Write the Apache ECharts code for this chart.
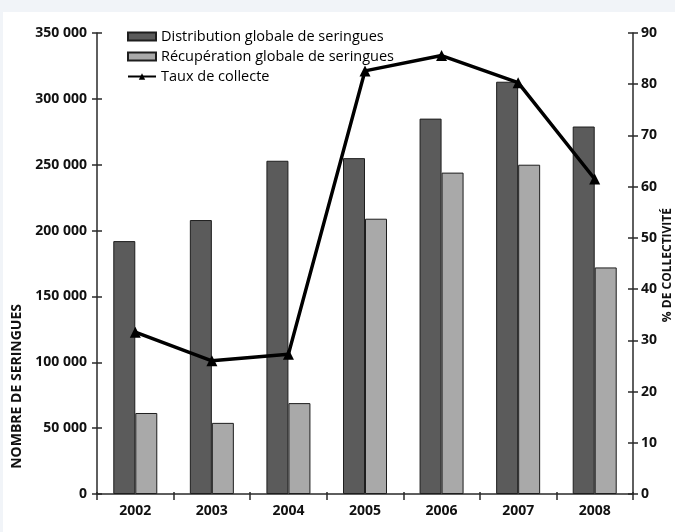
<!DOCTYPE html>
<html>
<head>
<meta charset="utf-8">
<script src="https://cdn.jsdelivr.net/npm/echarts@6/dist/echarts.min.js"></script>
<style>
  html, body { margin: 0; padding: 0; background: #f1f4f8; }
  #chart { position: absolute; left: 3px; top: 12px; width: 672px; height: 520px; background: #ffffff; }
</style>
</head>
<body>
<div id="chart"></div>
<script>
// Données : seringues distribuées / récupérées et taux de collecte (%)
const annees = ['2002', '2003', '2004', '2005', '2006', '2007', '2008'];
const distribution = [192000, 208000, 253000, 255000, 285000, 313000, 279000];
const recuperation = [61500, 54000, 69000, 209000, 244000, 250000, 172000];
const tauxCollecte = [31.6, 26.0, 27.3, 82.6, 85.6, 80.3, 61.5];

const FONT = '"Open Sans", "DejaVu Sans", sans-serif';
const AXIS_COLOR = '#2a2a2a';

function milliers(v) {
  return String(v).replace(/\B(?=(\d{3})+(?!\d))/g, ' ');
}

const chart = echarts.init(document.getElementById('chart'), null, { renderer: 'canvas' });

chart.setOption({
  animation: false,
  grid: { left: 94, right: 42, top: 21, bottom: 38 },
  legend: {
    left: 119,
    top: 12,
    orient: 'vertical',
    itemWidth: 28,
    itemHeight: 8,
    itemGap: 5,
    textStyle: { fontFamily: FONT, fontSize: 14.5, color: '#000' },
    data: [
      { name: 'Distribution globale de seringues', icon: 'rect' },
      { name: 'Récupération globale de seringues', icon: 'rect' },
      { name: 'Taux de collecte' }
    ]
  },
  xAxis: [
    {
      type: 'category',
      data: annees,
      axisLine: { lineStyle: { color: AXIS_COLOR, width: 1.5 } },
      axisTick: { show: true, length: 6, lineStyle: { color: AXIS_COLOR, width: 1.5 } },
      axisLabel: { margin: 10, fontFamily: FONT, fontSize: 14, fontWeight: 'bold', color: '#111' }
    },
    {
      // repères intérieurs de l'axe des années
      type: 'category',
      data: annees,
      position: 'bottom',
      axisLine: { show: false },
      axisTick: { show: true, inside: true, length: 2, lineStyle: { color: AXIS_COLOR, width: 1.5 } },
      axisLabel: { show: false }
    }
  ],
  yAxis: [
    {
      type: 'value',
      min: 0, max: 350000, interval: 50000,
      position: 'left',
      axisLine: { show: true, lineStyle: { color: AXIS_COLOR, width: 1.5 } },
      axisTick: { show: true, length: 5, lineStyle: { color: AXIS_COLOR, width: 1.5 } },
      splitLine: { show: false },
      axisLabel: {
        margin: 10, fontFamily: FONT, fontSize: 14, fontWeight: 'bold', color: '#111',
        formatter: milliers
      }
    },
    {
      type: 'value',
      min: 0, max: 90, interval: 10,
      position: 'right',
      axisLine: { show: true, lineStyle: { color: AXIS_COLOR, width: 1.5 } },
      axisTick: { show: true, length: 5, lineStyle: { color: AXIS_COLOR, width: 1.5 } },
      splitLine: { show: false },
      axisLabel: { margin: 8, fontFamily: FONT, fontSize: 14, fontWeight: 'bold', color: '#111' }
    },
    {
      // repères intérieurs de l'axe gauche
      type: 'value',
      min: 0, max: 350000, interval: 50000,
      position: 'left',
      axisLine: { show: false },
      axisTick: { show: true, inside: true, length: 5, lineStyle: { color: AXIS_COLOR, width: 1.5 } },
      splitLine: { show: false },
      axisLabel: { show: false }
    },
    {
      // repères intérieurs de l'axe droit
      type: 'value',
      min: 0, max: 90, interval: 10,
      position: 'right',
      axisLine: { show: false },
      axisTick: { show: true, inside: true, length: 5, lineStyle: { color: AXIS_COLOR, width: 1.5 } },
      splitLine: { show: false },
      axisLabel: { show: false }
    }
  ],
  graphic: [
    {
      type: 'text',
      left: 7, top: 292,
      rotation: Math.PI / 2,
      style: {
        text: 'NOMBRE DE SERINGUES',
        font: 'bold 14px ' + FONT,
        fill: '#111'
      }
    },
    {
      type: 'text',
      right: 1, top: 196,
      rotation: Math.PI / 2,
      style: {
        text: '% DE COLLECTIVITÉ',
        font: 'bold 12px ' + FONT,
        fill: '#111'
      }
    }
  ],
  series: [
    {
      name: 'Distribution globale de seringues',
      type: 'bar',
      data: distribution,
      barWidth: 22,
      barGap: '0%',
      itemStyle: { color: '#5b5b5b', borderColor: '#1e1e1e', borderWidth: 1 }
    },
    {
      name: 'Récupération globale de seringues',
      type: 'bar',
      data: recuperation,
      barWidth: 22,
      barGap: '0%',
      itemStyle: { color: '#a9a9a9', borderColor: '#1e1e1e', borderWidth: 1 }
    },
    {
      name: 'Taux de collecte',
      type: 'line',
      yAxisIndex: 1,
      data: tauxCollecte,
      symbol: 'triangle',
      symbolSize: 11,
      lineStyle: { color: '#000', width: 3.5 },
      itemStyle: { color: '#000' },
      z: 5
    }
  ]
});
</script>
</body>
</html>
